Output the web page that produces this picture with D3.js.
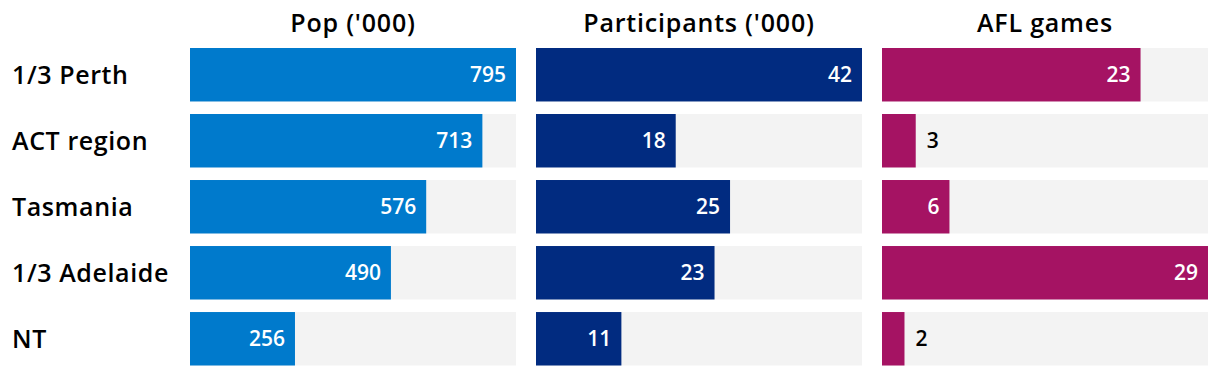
<!DOCTYPE html>
<html>
<head>
<meta charset="utf-8">
<script src="https://cdn.jsdelivr.net/npm/d3@7"></script>
<style>
  body { margin: 0; background: #fff; }
  text { font-family: "Open Sans", Inter, sans-serif; }
</style>
</head>
<body>
<svg width="1220" height="376"></svg>
<script>
let regions = ['1/3 Perth', 'ACT region', 'Tasmania', '1/3 Adelaide', 'NT']
let pop = [795, 713, 576, 490, 256]
let participants = [42, 18, 25, 23, 11]
let aflGames = [23, 3, 6, 29, 2]
let titles = ["Pop ('000)", "Participants ('000)", 'AFL games']
let colors = ['#007acc', '#012b80', '#a51363']

let svg = d3.select('svg')
let panelW = 326, panelGap = 20, left = 190

let y = d3.scaleBand().domain(regions).range([48, 365.5]).paddingInner(0.19).paddingOuter(0)

svg.selectAll('.label')
  .data(regions)
  .join('text')
  .attr('x', 12)
  .attr('y', d => y(d) + y.bandwidth() / 2)
  .attr('dy', '0.36em')
  .attr('font-size', 25)
  .attr('font-weight', 600)
  .attr('letter-spacing', 0.6)
  .attr('fill', '#000')
  .text(d => d)

let series = [pop, participants, aflGames]
series.forEach(function (vals, i) {
  let x0 = left + i * (panelW + panelGap)
  let x = d3.scaleLinear().domain([0, d3.max(vals)]).range([0, panelW])
  let g = svg.append('g').attr('transform', 'translate(' + x0 + ',0)')

  g.append('text')
    .attr('x', panelW / 2)
    .attr('y', 23)
    .attr('dy', '0.36em')
    .attr('text-anchor', 'middle')
    .attr('font-size', 25)
    .attr('font-weight', 600)
    .attr('letter-spacing', 0.8)
    .text(titles[i])

  let rows = vals.map((v, j) => ({ name: regions[j], v: v }))

  g.selectAll('.bg').data(rows).join('rect')
    .attr('x', 0).attr('y', d => y(d.name))
    .attr('width', panelW).attr('height', y.bandwidth())
    .attr('fill', '#f3f3f3')

  g.selectAll('.bar').data(rows).join('rect')
    .attr('x', 0).attr('y', d => y(d.name))
    .attr('width', d => x(d.v)).attr('height', y.bandwidth())
    .attr('fill', colors[i])

  g.selectAll('.val').data(rows).join('text')
    .attr('x', d => x(d.v) > 45 ? x(d.v) - 10 : x(d.v) + 11)
    .attr('y', d => y(d.name) + y.bandwidth() / 2)
    .attr('dy', '0.36em')
    .attr('text-anchor', d => x(d.v) > 45 ? 'end' : 'start')
    .attr('font-size', 21)
    .attr('font-weight', 600)
    .attr('fill', d => x(d.v) > 45 ? '#fff' : '#000')
    .text(d => d.v)
})
</script>
</body>
</html>
